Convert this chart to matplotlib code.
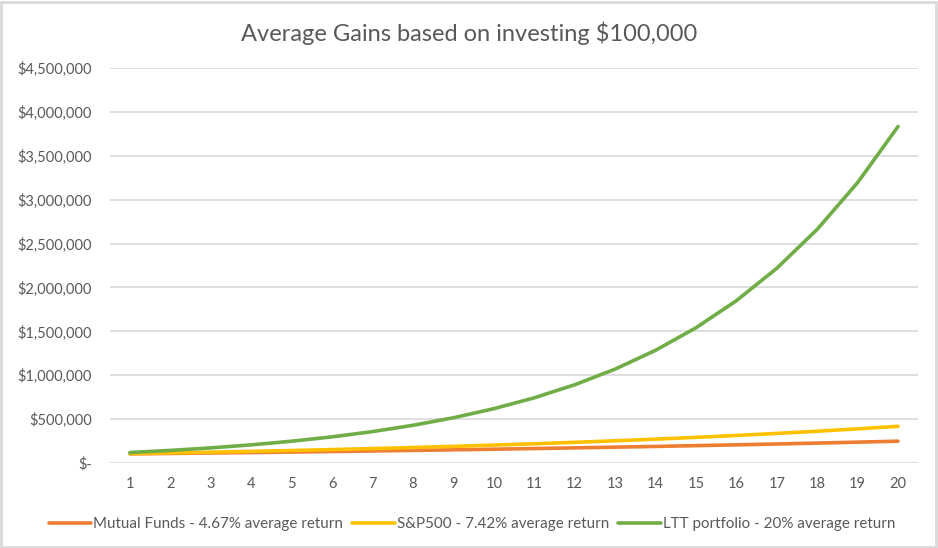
import matplotlib
matplotlib.use('Agg')
import matplotlib.pyplot as plt
from matplotlib.ticker import FuncFormatter, MultipleLocator

plt.rcParams['font.family'] = ['Lato', 'DejaVu Sans']

years = list(range(1, 21))
mutual_funds = [104670, 109560, 114670, 120030, 125640, 131500, 137640, 144070, 150800, 157840,
                165210, 172930, 181000, 189460, 198310, 207570, 217260, 227410, 238020, 249140]
sp500 = [107420, 115390, 123950, 133150, 143030, 153640, 165040, 177290, 190450, 204580,
         219760, 236060, 253580, 272400, 292610, 314320, 337640, 362700, 389610, 418520]
ltt = [120000, 144000, 172800, 207360, 248830, 298600, 358320, 429980, 515980, 619170,
       743010, 891610, 1069930, 1283920, 1540700, 1848840, 2218610, 2662330, 3194800, 3833760]
labels = ['Mutual Funds - 4.67% average return',
          'S&P500 - 7.42% average return',
          'LTT portfolio - 20% average return']
colors = ['#ED7D31', '#FFC000', '#70AD47']

fig = plt.figure(figsize=(9.38, 5.48), dpi=100)
ax = fig.add_axes([0.117, 0.155, 0.862, 0.721])

for series, lab, col in zip([mutual_funds, sp500, ltt], labels, colors):
    ax.plot(years, series, color=col, lw=2.6, label=lab, solid_capstyle='round')

ax.set_xlim(0.5, 20.5)
ax.set_ylim(0, 4500000)
ax.set_xticks(years)
ax.yaxis.set_major_locator(MultipleLocator(500000))


def money(v, pos):
    if v == 0:
        return '$-'
    return '${:,.0f}'.format(v)


ax.yaxis.set_major_formatter(FuncFormatter(money))
ax.grid(axis='y', color='#D9D9D9', lw=1.2)
ax.set_axisbelow(True)
for s in ax.spines.values():
    s.set_visible(False)
ax.tick_params(length=0, colors='#595959', labelsize=10.5)
ax.tick_params(axis='y', pad=13)
ax.tick_params(axis='x', pad=10)

fig.text(0.5, 0.94, 'Average Gains based on investing $100,000', ha='center', va='center',
         fontsize=17, color='#595959')

ax.legend(loc='center', bbox_to_anchor=(0.448, -0.155), ncol=3, frameon=False,
          fontsize=10.9, labelcolor='#595959', handlelength=2.8, handletextpad=0.15,
          columnspacing=0.6)

# light frame around the whole picture
fig.patches.append(plt.Rectangle((0.001, 0.002), 0.997, 0.995, transform=fig.transFigure,
                                 fill=False, edgecolor='#D9D9D9', lw=2))

fig.savefig('out.png', dpi=100, facecolor='white')
